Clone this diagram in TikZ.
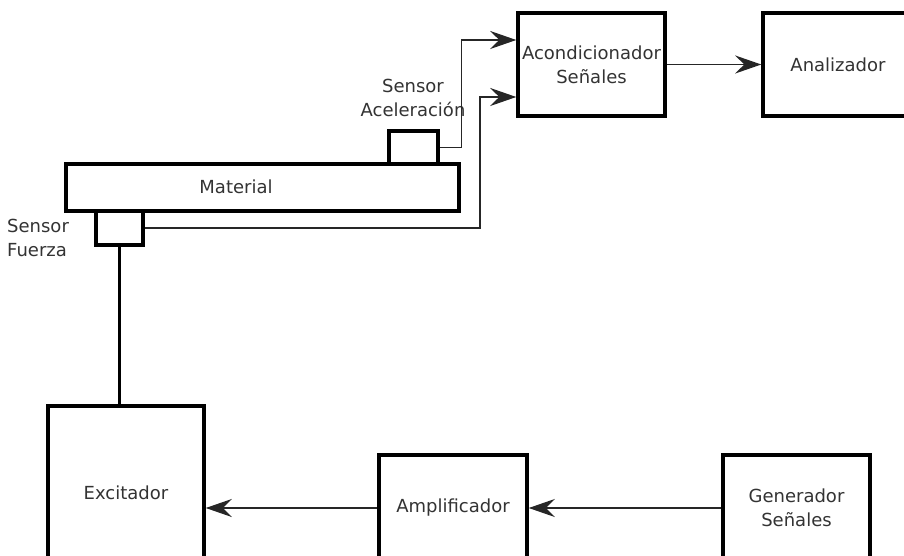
\documentclass[tikz,border=0pt]{standalone}
\usepackage{fontspec}
\setmainfont{DejaVu Sans}
\usetikzlibrary{arrows.meta,calc}
\begin{document}
\begin{tikzpicture}[x=1pt,y=-1pt,
  box/.style={draw=black,line width=3.5pt,inner sep=0pt,align=center,text=black!80},
  lbl/.style={inner sep=0pt,text=black!80,align=center},
  conn/.style={draw=black!85,line width=1.2pt},
  arr/.style={conn,-{Stealth[length=26pt,width=18pt,inset=9pt]}},
  every node/.style={font=\fontsize{18}{24}\selectfont}]
\useasboundingbox (0,0) rectangle (904,556);
\clip (0,0) rectangle (904,556);
% boxes
\node[box,minimum width=147pt,minimum height=103pt] (ac) at (591.5,64.5) {Acondicionador\\Señales};
\node[box,minimum width=150pt,minimum height=103pt] (an) at (838,64.5) {Analizador};
\node[box,minimum width=393pt,minimum height=47pt] (mat) at (262.5,187.5) {};
\node[lbl] (matt) at (236,187) {Material};
\node[box,minimum width=49pt,minimum height=33pt] (sa) at (413.5,147.5) {};
\node[lbl] (sat) at (413,98) {Sensor\\Aceleración};
\node[box,minimum width=47pt,minimum height=34pt] (sf) at (119.5,228) {};
\node[lbl,anchor=west,align=left] (sft) at (7,238) {Sensor\\Fuerza};
\node[box,minimum width=156pt,minimum height=174pt] (exc) at (126,493) {Excitador};
\node[box,minimum width=148pt,minimum height=106pt] (amp) at (453,508) {Amplificador};
\node[box,minimum width=147pt,minimum height=106pt] (gen) at (796.5,508) {Generador\\Señales};
% connectors
\draw[arr] (ac.east) -- (an.west);
\draw[arr] (sa.east) -- ++(22,0) |- ([yshift=24.5pt]ac.west);
\draw[arr] (sf.east) -- (480,228) |- ([yshift=-32.5pt]ac.west);
\draw[line width=3.5pt] (sf.south) -- (sf.south |- exc.north);
\draw[arr] (gen.west) -- (amp.east);
\draw[arr] (amp.west) -- (exc.east |- amp.west);
\end{tikzpicture}
\end{document}
